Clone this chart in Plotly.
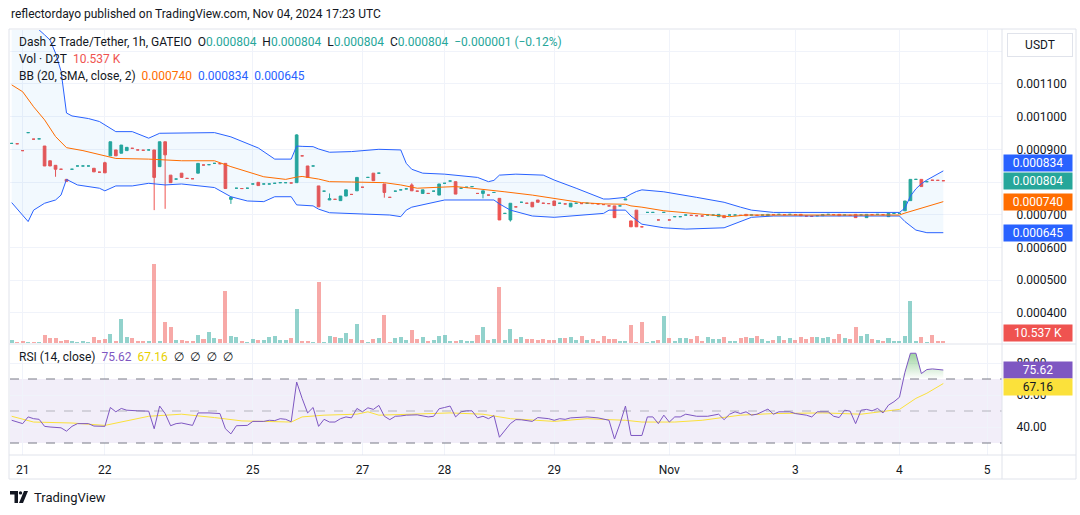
import numpy as np
import plotly.graph_objects as go

FONT = "Roboto, 'DejaVu Sans', sans-serif"
TEAL = "#26a69a"
RED = "#ef5350"
BLUE = "#2962ff"
ORANGE = "#ff6d00"
PURPLE = "#7e57c2"
YELLOW = "#fbe13b"
TXT = "#131722"
GRID = "#f0f3fa"
BORDER = "#e0e3eb"

# ---------------- data (prices in millionths of USDT) ----------------
opens = [918, 917, 896, 951, 931, 932, 910, 865, 851, 839,
         808, 839, 849, 849, 849, 842, 830, 859, 880, 898,
         888, 896, 903, 898, 897, 898, 898, 847, 923, 821,
         809, 827, 811, 810, 827, 852, 853, 857, 856, 857,
         747, 781, 780, 781, 794, 799, 794, 794, 796, 798,
         798, 797, 798, 880, 849, 849, 788, 772, 745, 747,
         743, 757, 762, 773, 784, 814, 827, 827, 794, 753,
         772, 776, 779, 791, 772, 765, 765, 772, 760, 796,
         803, 801, 781, 784, 786, 765, 765, 760, 768, 750,
         704, 684, 724, 738, 735, 738, 745, 735, 734, 742,
         735, 733, 724, 735, 734, 735, 734, 733, 731, 727,
         727, 727, 745, 681, 714, 663, 707, 707, 684, 707,
         684, 694, 694, 699, 698, 697, 696, 699, 699, 694,
         697, 699, 699, 698, 701, 699, 698, 699, 697, 700,
         701, 700, 701, 700, 701, 696, 695, 697, 697, 701,
         700, 701, 699, 698, 701, 699, 691, 700, 701, 700,
         694, 704, 704, 712, 743, 808, 808, 801, 806, 805,
         804]
closes = [918, 917, 896, 951, 931, 932, 849, 849, 839, 839,
          802, 839, 849, 849, 849, 831, 830, 828, 923, 880,
          913, 906, 903, 898, 897, 898, 814, 923, 883, 798,
          809, 814, 811, 810, 857, 852, 853, 857, 856, 780,
          753, 781, 780, 781, 794, 789, 794, 794, 796, 798,
          798, 797, 944, 880, 814, 849, 724, 772, 749, 747,
          757, 776, 762, 814, 784, 814, 804, 827, 768, 753,
          772, 776, 779, 773, 772, 776, 765, 772, 794, 796,
          803, 763, 781, 784, 786, 765, 773, 760, 768, 684,
          704, 735, 724, 738, 735, 724, 738, 735, 734, 728,
          735, 733, 735, 735, 734, 735, 734, 733, 731, 727,
          691, 727, 748, 663, 663, 663, 707, 707, 684, 707,
          684, 694, 694, 699, 698, 697, 696, 699, 699, 701,
          691, 699, 699, 698, 697, 699, 698, 699, 701, 700,
          701, 700, 701, 700, 697, 696, 695, 697, 700, 701,
          700, 697, 699, 698, 691, 699, 701, 700, 701, 700,
          704, 704, 704, 742, 808, 808, 786, 801, 805, 805,
          804]
wick_highs = {17: 862, 52: 946, 58: 765, 73: 796}
wick_lows = {8: 816, 26: 714, 28: 718, 40: 733, 68: 752, 86: 750, 91: 679}

volumes_k = [14.0, 5.3, 10.5, 5.3, 5.3, 5.3, 42.1, 26.3, 26.3, 10.5,
             15.8, 10.5, 5.3, 10.5, 5.3, 31.6, 15.8, 21.1, 47.4, 10.5,
             126.4, 31.6, 26.3, 10.5, 10.5, 10.5, 418.0, 10.5, 110.6, 84.3,
             15.8, 15.8, 10.5, 10.5, 42.1, 21.1, 57.9, 26.3, 21.1, 274.0,
             36.9, 31.6, 10.5, 5.3, 21.1, 15.8, 15.8, 31.6, 36.9, 15.8,
             15.8, 26.3, 179.0, 10.5, 10.5, 5.3, 321.0, 5.3, 36.9, 31.6,
             26.3, 52.7, 21.1, 100.0, 15.8, 5.3, 21.1, 26.3, 147.5, 5.3,
             26.3, 31.6, 15.8, 68.5, 21.1, 31.6, 10.5, 15.8, 36.9, 42.1,
             10.5, 10.5, 15.8, 10.5, 10.5, 42.1, 84.3, 15.8, 21.1, 295.0,
             15.8, 73.8, 21.1, 31.6, 21.1, 21.1, 15.8, 21.1, 15.8, 15.8,
             26.3, 26.3, 31.6, 15.8, 36.9, 15.8, 21.1, 10.5, 36.9, 21.1,
             21.1, 10.5, 10.5, 94.8, 5.3, 110.6, 5.3, 10.5, 15.8, 142.2,
             26.3, 10.5, 26.3, 26.3, 21.1, 36.9, 10.5, 31.6, 21.1, 21.1,
             31.6, 10.5, 10.5, 26.3, 31.6, 26.3, 36.9, 21.1, 10.5, 15.8,
             36.9, 15.8, 26.3, 15.8, 31.6, 21.1, 31.6, 31.6, 26.3, 31.6,
             21.1, 47.4, 26.3, 21.1, 84.3, 36.9, 47.4, 21.1, 15.8, 10.5,
             26.3, 10.5, 10.5, 36.9, 221.3, 10.5, 31.6, 5.3, 42.1, 10.5,
             10.537]

bb_upper_idx = [0, 1, 2, 3, 4, 5, 6, 7, 8, 9, 10, 11, 14, 16, 19, 22, 25, 27, 37, 40,
                45, 47, 48, 51, 52, 53, 55, 56, 58, 62, 67, 71, 72, 73, 75, 79, 85, 87, 88, 89,
                92, 97, 99, 103, 105, 108, 109, 111, 112, 113, 114, 115, 119, 125, 130, 133, 135, 139, 162, 163,
                164, 165, 166, 167, 168, 169, 170]
bb_upper = [1360, 1340, 1320, 1300, 1285, 1265, 1250, 1234, 1194, 1139, 1011, 1002, 994, 985, 954, 954, 934, 949, 951, 938,
            904, 880, 870, 870, 910, 909, 908, 901, 891, 893, 900, 898, 857, 839, 827, 824, 814, 801, 805, 821,
            824, 821, 806, 781, 767, 748, 748, 751, 753, 763, 771, 776, 770, 753, 738, 723, 714, 707, 707, 720,
            757, 779, 795, 806, 816, 826, 834]
bb_mid_idx = [0, 2, 4, 6, 8, 10, 13, 16, 19, 25, 31, 37, 40, 46, 50, 52, 53, 56, 58, 62,
              68, 71, 74, 78, 81, 84, 87, 90, 95, 100, 104, 108, 112, 113, 115, 119, 125, 131, 134, 162,
              163, 170]
bb_mid = [1097, 1076, 1030, 990, 939, 905, 896, 883, 872, 870, 865, 865, 847, 816, 808, 815, 817, 809, 801, 800,
          798, 791, 781, 784, 786, 781, 776, 770, 760, 747, 737, 733, 732, 727, 723, 712, 702, 694, 699, 699,
          705, 740]
bb_lower_idx = [0, 3, 4, 6, 8, 9, 10, 12, 16, 17, 19, 22, 25, 28, 31, 37, 40, 43, 46, 48,
                51, 52, 55, 56, 58, 65, 69, 71, 72, 73, 79, 88, 89, 91, 95, 99, 108, 109, 112, 113,
                115, 119, 123, 130, 133, 135, 139, 162, 163, 164, 165, 167, 170]
bb_lower = [737, 679, 714, 735, 745, 760, 808, 791, 781, 773, 788, 788, 796, 791, 794, 783, 755, 742, 740, 755,
            755, 730, 727, 717, 706, 702, 699, 694, 714, 723, 745, 745, 733, 714, 696, 692, 704, 714, 714, 696,
            671, 660, 656, 660, 679, 692, 696, 696, 679, 665, 653, 645, 645]

rsi_idx = [0, 2, 3, 4, 5, 6, 7, 9, 10, 11, 12, 14, 15, 16, 17, 18, 19, 20, 21, 23,
           25, 26, 27, 28, 29, 30, 31, 33, 34, 36, 38, 39, 40, 41, 43, 44, 46, 47, 48, 49,
           50, 51, 52, 53, 54, 55, 56, 57, 58, 59, 60, 61, 62, 63, 64, 65, 66, 67, 68, 69,
           70, 71, 72, 74, 75, 76, 77, 78, 79, 80, 81, 82, 83, 84, 85, 86, 87, 88, 89, 90,
           91, 92, 93, 95, 96, 98, 99, 100, 101, 102, 105, 107, 109, 110, 111, 112, 113, 115, 116, 117,
           118, 119, 120, 121, 122, 123, 125, 127, 128, 129, 130, 131, 132, 133, 134, 135, 136, 138, 139, 140,
           142, 143, 145, 146, 147, 149, 150, 151, 152, 153, 154, 155, 156, 157, 158, 159, 160, 161, 162, 163,
           164, 165, 166, 167, 168, 169, 170]
rsi_val = [44.2, 42.1, 46.3, 45.2, 44.8, 40.4, 40.0, 39.5, 37.4, 40.4, 42.1, 42.1, 40.6, 40.4, 40.4, 52.2, 49.5, 51.6, 50.5, 50.1,
           49.9, 38.9, 53.1, 48.4, 40.8, 42.1, 42.5, 41.0, 48.8, 48.8, 48.4, 38.9, 35.7, 40.8, 41.0, 43.5, 43.5, 44.2, 44.0, 45.2,
           44.8, 43.3, 68.1, 57.9, 48.8, 52.2, 40.4, 44.8, 43.1, 43.1, 45.2, 46.3, 45.7, 51.6, 49.5, 52.0, 51.0, 53.5, 46.7, 44.6,
           46.7, 46.9, 47.4, 47.6, 47.1, 46.3, 46.7, 51.4, 52.2, 53.1, 46.3, 49.5, 50.1, 50.1, 45.7, 46.7, 45.2, 47.1, 33.6, 37.8,
           42.1, 44.6, 44.5, 43.5, 45.9, 45.2, 44.2, 45.2, 44.8, 45.7, 46.3, 45.7, 44.2, 32.5, 42.1, 53.1, 34.7, 34.7, 46.3, 46.3,
           42.1, 47.4, 43.1, 46.3, 46.3, 48.0, 46.7, 46.7, 47.4, 48.0, 44.6, 48.0, 49.5, 48.4, 49.5, 47.4, 48.0, 51.2, 48.0, 49.5,
           49.5, 48.4, 47.4, 46.3, 49.5, 49.5, 46.7, 45.9, 50.5, 49.9, 42.1, 50.5, 51.0, 50.1, 51.6, 48.8, 53.7, 55.8, 58.6, 74.2,
           86.1, 86.1, 73.4, 75.9, 76.3, 76.0, 75.62]
rsi_ma_idx = [0, 4, 11, 17, 25, 31, 37, 42, 51, 53, 57, 63, 65, 67, 73, 80, 86, 91, 99, 105,
              109, 112, 115, 121, 126, 133, 139, 148, 155, 160, 162, 165, 167, 170]
rsi_ma_val = [46.7, 43.1, 42.5, 41.0, 46.7, 48.0, 45.9, 43.8, 43.1, 46.3, 47.4, 48.0, 49.5, 47.4, 48.0, 48.8, 48.0, 45.2, 43.5, 45.2,
              44.6, 44.2, 43.1, 43.1, 44.2, 47.4, 48.4, 48.8, 48.0, 50.1, 51.0, 57.9, 61.1, 67.16]

date_tick_idx = [2, 17, 44, 64, 79, 99, 120, 143, 162, 178]
date_tick_text = ["21", "22", "25", "27", "28", "29", "Nov", "3", "4", "5"]
price_ticks = [0.0004, 0.0005, 0.0006, 0.0007, 0.0008, 0.0009, 0.0010, 0.0011, 0.0012]
rsi_ticks = [40, 60, 80]

# ---------------- layout geometry (pixels) ----------------
W, H = 1080, 515
PL, PR, PT, PB = 10, 1002, 30, 455
MAIN_BOT, RSI_TOP = 343, 345
BAR0, BARW = 11.7, 5.48


def pxx(x):
    return (x - PL) / (PR - PL)


def pxy(y):
    return (PB - y) / (PB - PT)


x_range = [(PL - BAR0) / BARW, (PR - BAR0) / BARW]
price_range = [307.7e-6, 1264.8e-6]
vol_range = [0, 1650]
rsi_range = [22.5, 91.25]

n = len(opens)
S = 1e-6
highs = [max(opens[i], closes[i], wick_highs.get(i, 0)) for i in range(n)]
lows = [min(opens[i], closes[i], wick_lows.get(i, 10 ** 9)) for i in range(n)]
up = []
prev = True
for i in range(n):
    o, c = opens[i], closes[i]
    if c > o:
        d = True
    elif c < o:
        d = False
    elif i > 0 and c > closes[i - 1]:
        d = True
    elif i > 0 and c < closes[i - 1]:
        d = False
    else:
        d = prev
    up.append(d)
    prev = d

fig = go.Figure()

# Bollinger bands
fig.add_trace(go.Scatter(x=bb_upper_idx, y=np.array(bb_upper) * S, mode="lines",
                         line=dict(color=BLUE, width=1), hoverinfo="skip", showlegend=False))
fig.add_trace(go.Scatter(x=bb_lower_idx, y=np.array(bb_lower) * S, mode="lines",
                         line=dict(color=BLUE, width=1), fill="tonexty",
                         fillcolor="rgba(33,150,243,0.06)", hoverinfo="skip", showlegend=False))
fig.add_trace(go.Scatter(x=bb_mid_idx, y=np.array(bb_mid) * S, mode="lines",
                         line=dict(color=ORANGE, width=1), hoverinfo="skip", showlegend=False))

# candles
for color, flag in ((TEAL, True), (RED, False)):
    idx = [i for i in range(n) if up[i] == flag]
    fig.add_trace(go.Candlestick(
        x=idx,
        open=[opens[i] * S for i in idx], high=[highs[i] * S for i in idx],
        low=[lows[i] * S for i in idx], close=[closes[i] * S for i in idx],
        increasing=dict(line=dict(color=color, width=1), fillcolor=color),
        decreasing=dict(line=dict(color=color, width=1), fillcolor=color),
        whiskerwidth=0, hoverinfo="skip", showlegend=False))

# volume
vol_colors = ["rgba(38,166,154,0.5)" if u else "rgba(239,83,80,0.5)" for u in up]
fig.add_trace(go.Bar(x=list(range(n)), y=volumes_k, marker=dict(color=vol_colors, line=dict(width=0)),
                     width=0.74, yaxis="y3", hoverinfo="skip", showlegend=False))

# RSI
ob_idx = [i for i, v in zip(rsi_idx, rsi_val) if i >= 162]
ob_val = [max(v, 70) for i, v in zip(rsi_idx, rsi_val) if i >= 162]
fig.add_trace(go.Scatter(x=ob_idx, y=[70] * len(ob_idx), mode="lines", line=dict(width=0),
                         xaxis="x2", yaxis="y2", hoverinfo="skip", showlegend=False))
fig.add_trace(go.Scatter(x=ob_idx, y=ob_val, mode="lines", line=dict(width=0), fill="tonexty",
                         fillgradient=dict(type="vertical",
                                           colorscale=[[0, "rgba(76,175,80,0.0)"], [1, "rgba(76,175,80,0.55)"]]),
                         xaxis="x2", yaxis="y2", hoverinfo="skip", showlegend=False))
fig.add_trace(go.Scatter(x=rsi_ma_idx, y=rsi_ma_val, mode="lines", line=dict(color=YELLOW, width=1),
                         xaxis="x2", yaxis="y2", hoverinfo="skip", showlegend=False))
fig.add_trace(go.Scatter(x=rsi_idx, y=rsi_val, mode="lines", line=dict(color=PURPLE, width=1),
                         xaxis="x2", yaxis="y2", hoverinfo="skip", showlegend=False))

main_dom = [pxy(MAIN_BOT), 1]
rsi_dom = [0, pxy(RSI_TOP)]

shapes = []
# RSI band and levels
shapes.append(dict(type="rect", xref="x2 domain", x0=0, x1=1, yref="y2", y0=30, y1=70,
                   fillcolor="rgba(126,87,194,0.1)", line=dict(width=0), layer="below"))
for lv, col in ((70, "#787b86"), (50, "rgba(120,123,134,0.5)"), (30, "#787b86")):
    shapes.append(dict(type="line", xref="x2 domain", x0=0, x1=1, yref="y2", y0=lv, y1=lv,
                       line=dict(color=col, width=1, dash="dash")))
# frame lines
shapes.append(dict(type="rect", xref="paper", yref="paper", x0=pxx(9), x1=pxx(1076),
                   y0=pxy(479), y1=pxy(29), line=dict(color=BORDER, width=1)))
shapes.append(dict(type="line", xref="paper", yref="paper", x0=1, x1=1, y0=pxy(479), y1=pxy(29),
                   line=dict(color=BORDER, width=1)))
for yy in (455, 344):
    shapes.append(dict(type="line", xref="paper", yref="paper", x0=pxx(9), x1=pxx(1076),
                       y0=pxy(yy), y1=pxy(yy), line=dict(color=BORDER, width=1)))


# TradingView logo
def path(pts):
    return "M " + " L ".join(f"{pxx(a)},{pxy(b)}" for a, b in pts) + " Z"


shapes.append(dict(type="path", xref="paper", yref="paper",
                   path=path([(10, 491), (18, 491), (18, 503), (14.5, 503), (14.5, 494.5), (10, 494.5)]),
                   fillcolor=TXT, line=dict(width=0)))
shapes.append(dict(type="circle", xref="paper", yref="paper", x0=pxx(18.8), x1=pxx(22.2),
                   y0=pxy(494.6), y1=pxy(491.2), fillcolor=TXT, line=dict(width=0)))
shapes.append(dict(type="path", xref="paper", yref="paper",
                   path=path([(24, 491), (28, 491), (23, 503), (19, 503)]),
                   fillcolor=TXT, line=dict(width=0)))

NB = "\u00a0"


def col(t, c):
    return f"<span style='color:{c}'>{t}</span>"


ann = []


def text(x, y, t, size=12, color=TXT):
    ann.append(dict(xref="paper", yref="paper", x=pxx(x), y=pxy(y), xanchor="left", yanchor="middle",
                    text=t, showarrow=False, font=dict(family=FONT, size=size, color=color)))


text(9, 14, "reflectordayo published on TradingView.com, Nov 04, 2024 17:23 UTC", 12)
o_txt = f"{opens[-1] * S:.6f}"
h_txt = f"{highs[-1] * S:.6f}"
l_txt = f"{lows[-1] * S:.6f}"
c_txt = f"{closes[-1] * S:.6f}"
chg = (closes[-1] - closes[-2]) * S
chg_pct = (closes[-1] - closes[-2]) / closes[-2] * 100
chg_txt = f"\u2212{abs(chg):.6f} (\u2212{abs(chg_pct):.2f}%)"
text(17, 42, "Dash 2 Trade/Tether, 1h, GATEIO" + NB * 2 + "O" + col(o_txt, TEAL) + NB * 2 + "H" + col(h_txt, TEAL)
     + NB * 2 + "L" + col(l_txt, TEAL) + NB * 2 + "C" + col(c_txt, TEAL) + NB * 2 + col(chg_txt, TEAL))
text(17, 59, "Vol \u00b7 D2T" + NB * 2 + col(f"{volumes_k[-1]:.3f}" + NB + "K", RED))
text(17, 76, "BB (20, SMA, close, 2)" + NB * 2 + col(f"{bb_mid[-1] * S:.6f}", ORANGE) + NB * 2
     + col(f"{bb_upper[-1] * S:.6f}", BLUE) + NB * 2 + col(f"{bb_lower[-1] * S:.6f}", BLUE))
text(17, 357, "RSI (14, close)" + NB * 2 + col(f"{rsi_val[-1]:.2f}", PURPLE) + NB * 2
     + col(f"{rsi_ma_val[-1]:.2f}", "#e8d000") + NB * 2 + (NB * 2).join(["\u2205"] * 4))
text(32, 497, "TradingView", 13)


def box(t, y, yref, bg, fg, yshift=0):
    ann.append(dict(xref="paper", x=1, xanchor="left", xshift=1, yref=yref, y=y, yshift=yshift,
                    yanchor="middle", text=t, showarrow=False, bgcolor=bg, width=66, height=14,
                    borderpad=1, align="center", font=dict(family=FONT, size=12, color=fg)))


box(f"{bb_upper[-1] * S:.6f}", bb_upper[-1] * S, "y", BLUE, "white", 8)
box(f"{closes[-1] * S:.6f}", closes[-1] * S, "y", TEAL, "white")
box(f"{bb_mid[-1] * S:.6f}", bb_mid[-1] * S, "y", ORANGE, "white")
box(f"{bb_lower[-1] * S:.6f}", bb_lower[-1] * S, "y", BLUE, "white")
box(f"{volumes_k[-1]:.3f}" + NB + "K", volumes_k[-1], "y3", RED, "white", 8)
box(f"{rsi_val[-1]:.2f}", rsi_val[-1], "y2", PURPLE, "white")
box(f"{rsi_ma_val[-1]:.2f}", rsi_ma_val[-1], "y2", YELLOW, TXT, -3)
ann.append(dict(xref="paper", yref="paper", x=pxx(1040), y=pxy(45), xanchor="center", yanchor="middle",
                text="USDT", showarrow=False, bgcolor="white", bordercolor=BORDER, borderwidth=1,
                width=62, height=20, font=dict(family=FONT, size=12, color=TXT)))

axis_common = dict(showline=False, zeroline=False, gridcolor=GRID, gridwidth=1)

fig.update_layout(
    width=W, height=H,
    margin=dict(l=PL, r=W - PR, t=PT, b=H - PB),
    paper_bgcolor="white", plot_bgcolor="white",
    font=dict(family=FONT, size=12, color=TXT),
    showlegend=False,
    xaxis=dict(domain=[0, 1], anchor="y", range=x_range, tickmode="array", tickvals=date_tick_idx,
               showticklabels=False, ticks="", rangeslider=dict(visible=False), showgrid=True, **axis_common),
    xaxis2=dict(domain=[0, 1], anchor="y2", matches="x", range=x_range, tickmode="array",
                tickvals=date_tick_idx, ticktext=date_tick_text, ticks="outside", ticklen=4,
                tickcolor="rgba(0,0,0,0)", showgrid=True, tickfont=dict(size=12, color=TXT, family=FONT),
                **axis_common),
    yaxis=dict(domain=main_dom, anchor="x", side="right", range=price_range, tickmode="array",
               tickvals=price_ticks, ticktext=[f"{v:.6f}" for v in price_ticks], ticks="outside", ticklen=11,
               tickcolor="rgba(0,0,0,0)", tickfont=dict(size=12, color=TXT, family=FONT), showgrid=True,
               **axis_common),
    yaxis3=dict(overlaying="y", anchor="x", range=vol_range, visible=False, showgrid=False),
    yaxis2=dict(domain=rsi_dom, anchor="x2", side="right", range=rsi_range, tickmode="array",
                tickvals=rsi_ticks, ticktext=[f"{v:.2f}" for v in rsi_ticks], ticks="outside", ticklen=11,
                tickcolor="rgba(0,0,0,0)", tickfont=dict(size=12, color=TXT, family=FONT), showgrid=True,
                **axis_common),
    shapes=shapes,
    annotations=ann,
    bargap=0,
)

fig.write_html("out.html", config={"displayModeBar": False},
               post_script="document.body.style.margin='0';document.body.style.overflow='hidden';")
